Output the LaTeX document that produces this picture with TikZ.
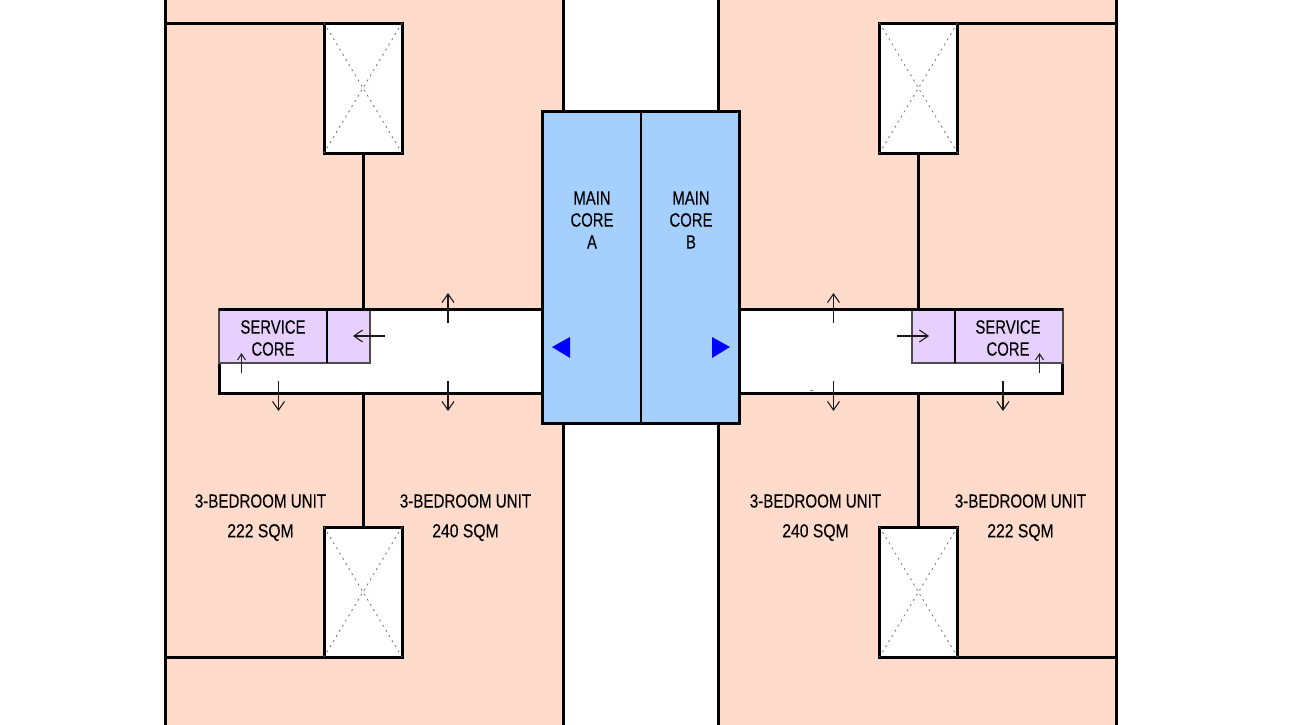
\documentclass[tikz,border=0pt]{standalone}
\usepackage{fontspec}
\setmainfont[FakeStretch=0.8,FakeBold=0.25]{Liberation Sans}
\newfontfamily\narrowlab[FakeStretch=0.775,FakeBold=0.25]{Liberation Sans}
\newfontfamily\widelab[FakeStretch=0.83,FakeBold=0.25]{Liberation Sans}
\usetikzlibrary{arrows.meta}
\definecolor{peach}{HTML}{FEDBCB}
\definecolor{corecol}{HTML}{A5D0FE}
\definecolor{servcol}{HTML}{E7D0FE}
\tikzset{
  x=0.75pt,y=-0.75pt,
  box/.style n args={2}{rectangle,inner sep=0pt,outer sep=0pt,minimum width=#1*0.75pt,minimum height=#2*0.75pt},
  wall/.style={line width=2.25pt,black},
  unit/.style={box={398}{725},fill=peach},
  shaft/.style={box={78}{130},draw=black,line width=2.25pt,fill=white},
  corridor/.style={box={323}{84},fill=white,draw=black,line width=2.25pt},
  serv/.style={draw=black!70,line width=0.85pt,fill=servcol},
  corebox/.style={box={99}{312},fill=corecol,draw=black,line width=1.6pt},
  lab/.style={font=\fontsize{14.2pt}{16.5pt}\selectfont,align=center,text=black,inner sep=0pt},
  arealab/.style={font=\widelab\fontsize{14.2pt}{16.5pt}\selectfont,align=center,text=black,inner sep=0pt},
  corelab/.style={font=\narrowlab\fontsize{14.4pt}{16.5pt}\selectfont,align=center,text=black,inner sep=0pt},
  xline/.style={draw=black!55,line width=0.6pt,dash pattern=on 1.5pt off 3pt},
  flow/.style={-{Straight Barb[length=6.5pt,width=9pt,line width=0.8pt]},line width=0.8pt,black!90},
  small flow/.style={-{Straight Barb[length=4.5pt,width=6pt,line width=0.8pt]},line width=0.85pt,black!85},
  tri/.style={fill=blue,draw=none}
}
\begin{document}
\begin{tikzpicture}
\useasboundingbox (0,0) rectangle (1290,725);
\node[unit] (ul) at (364,362.5) {};
\node[unit] (ur) at (917,362.5) {};

% outer boundary and party lines
\coordinate (ltop) at (165,0); \coordinate (lbot) at (165,725);
\coordinate (rtop) at (1116,0); \coordinate (rbot) at (1116,725);
\coordinate (lm1) at (563,0); \coordinate (lm2) at (563,725);
\coordinate (rm1) at (718,0); \coordinate (rm2) at (718,725);
\coordinate (l23) at (165,23); \coordinate (l657) at (165,657);
\coordinate (r23) at (1116,23); \coordinate (r657) at (1116,657);
\draw[wall] (ltop) -- (lbot);
\draw[wall] (rtop) -- (rbot);
\draw[wall] (lm1) -- (lm2);
\draw[wall] (rm1) -- (rm2);

% lift shafts
\node[shaft] (s1) at (363,88) {};
\node[shaft] (s2) at (363,592) {};
\node[shaft] (s3) at (918.5,88) {};
\node[shaft] (s4) at (918.5,592) {};
\foreach \s in {s1,s2,s3,s4}{
  \draw[xline] (\s.north west) -- (\s.south east);
  \draw[xline] (\s.north east) -- (\s.south west);
}
\draw[wall] (l23) -- (s1.north west);
\draw[wall] (l657) -- (s2.south west);
\draw[wall] (r23) -- (s3.north east);
\draw[wall] (r657) -- (s4.south east);

% corridors
\node[corridor] (cl) at (380.5,351) {};
\node[corridor] (cr) at (901,351) {};
\draw[wall] (s1.south) -- (s1.south |- cl.north);
\draw[wall] (s2.north) -- (s2.north |- cl.south);
\draw[wall] (s3.south) -- (s3.south |- cr.north);
\draw[wall] (s4.north) -- (s4.north |- cr.south);
\fill[black!50] (809.5,389.5) rectangle (813,391);

% service cores
\node[box={108}{54},serv] (sl) at (273,336) {};
\node[box={43}{54},serv] (sl2) at (348.5,336) {};
\node[box={108}{54},serv] (sr) at (1009,336) {};
\node[box={43}{54},serv] (sr2) at (933.5,336) {};
\draw[line width=1.5pt] (sl.north east) -- (sl.south east);
\draw[line width=1.5pt] (sr.north west) -- (sr.south west);
\draw[wall] (cl.north west) -- (cl.north east);
\draw[wall] (cr.north west) -- (cr.north east);
\node[corelab] (tsl) at (273,338) {SERVICE\\CORE};
\node[corelab] (tsr) at (1008,338) {SERVICE\\CORE};

% main cores
\node[corebox] (ca) at (591.5,267) {};
\node[corebox,minimum width=98*0.75pt] (cb) at (690,267) {};
\draw[wall] (ca.north west) rectangle (cb.south east);
\node[corelab] (ta) at (592,220) {MAIN\\CORE\\A};
\node[corelab] (tb) at (691,220) {MAIN\\CORE\\B};
\fill[tri] (552,347) -- (570,337) -- (570,358) -- cycle;
\fill[tri] (730,347) -- (712,337) -- (712,358) -- cycle;

% unit labels
\node[lab] (u1) at (260.5,501) {3-BEDROOM UNIT};
\node[arealab] (u1a) at (260.5,532.5) {222 SQM};
\node[lab] (u2) at (465.5,501) {3-BEDROOM UNIT};
\node[arealab] (u2a) at (465.5,532.5) {240 SQM};
\node[lab] (u3) at (815.5,501) {3-BEDROOM UNIT};
\node[arealab] (u3a) at (815.5,532.5) {240 SQM};
\node[lab] (u4) at (1020.5,501) {3-BEDROOM UNIT};
\node[arealab] (u4a) at (1020.5,532.5) {222 SQM};

% circulation arrows
\coordinate (a1s) at (448,323); \coordinate (a1e) at (448,293);
\coordinate (a2s) at (448,381); \coordinate (a2e) at (448,411);
\coordinate (a3s) at (278.5,381); \coordinate (a3e) at (278.5,411);
\coordinate (a4s) at (384.5,336); \coordinate (a4e) at (353,336);
\coordinate (a5s) at (241.5,373); \coordinate (a5e) at (241.5,353);
\coordinate (a6s) at (833.5,323); \coordinate (a6e) at (833.5,293);
\coordinate (a7s) at (833.5,381); \coordinate (a7e) at (833.5,411);
\coordinate (a8s) at (1003,381); \coordinate (a8e) at (1003,411);
\coordinate (a9s) at (897,336); \coordinate (a9e) at (929,336);
\coordinate (a10s) at (1039.5,373); \coordinate (a10e) at (1039.5,353);
\foreach \n in {1,2,3,4,6,7,8,9}{ \draw[flow] (a\n s) -- (a\n e); }
\draw[small flow] (a5s) -- (a5e);
\draw[small flow] (a10s) -- (a10e);
\end{tikzpicture}
\end{document}
